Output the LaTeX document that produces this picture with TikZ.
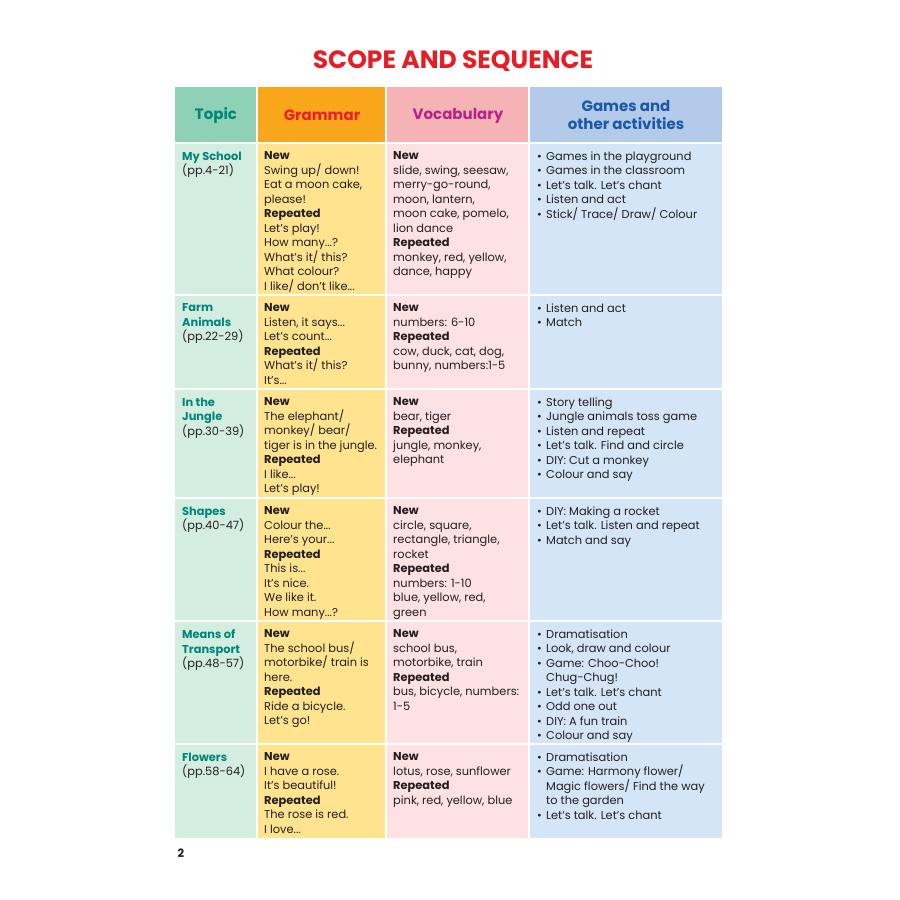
\documentclass[tikz,border=0pt]{standalone}
\usepackage{fontspec}
\setmainfont{Poppins}

\definecolor{titlered}{RGB}{227,30,36}
\definecolor{ink}{RGB}{35,31,32}
\definecolor{teal}{RGB}{0,133,120}
\definecolor{topichd}{RGB}{143,209,182}
\definecolor{gramhd}{RGB}{250,166,26}
\definecolor{vocabhd}{RGB}{246,179,182}
\definecolor{gameshd}{RGB}{179,202,233}
\definecolor{topicbg}{RGB}{212,237,225}
\definecolor{grambg}{RGB}{255,227,143}
\definecolor{vocabbg}{RGB}{253,225,227}
\definecolor{gamesbg}{RGB}{211,229,246}
\definecolor{gramtxt}{RGB}{232,33,43}
\definecolor{vocabtxt}{RGB}{181,36,138}
\definecolor{gamestxt}{RGB}{27,88,168}

\tikzset{
	cell/.style={anchor=north west,inner sep=0pt,align=left,text=ink,
		font=\fontsize{11.4}{14.5}\selectfont},
	topic/.style={cell,text=teal},
	head/.style={inner sep=0pt,align=center,font=\fontsize{15}{18}\selectfont\bfseries},
	gap/.style={white,line width=1.5pt}
}
\newcommand{\itm}{\makebox[9pt][l]{\textbullet}}
\newcommand{\nxt}{\hspace*{9pt}}

\begin{document}
\begin{tikzpicture}[x=1pt,y=-1pt]
	\useasboundingbox (0,0) rectangle (900,900);

	\node[text=titlered,font=\fontsize{25}{28}\selectfont\bfseries] (title) at (453,61) {SCOPE AND SEQUENCE};

	% header cells
	\fill[topichd](175,87) rectangle (257,143);
	\fill[gramhd](257,87) rectangle (386,143);
	\fill[vocabhd](386,87) rectangle (529,143);
	\fill[gameshd](529,87) rectangle (722,143);

	% body columns
	\fill[topicbg](175,143) rectangle (257,838);
	\fill[grambg](257,143) rectangle (386,838);
	\fill[vocabbg](386,143) rectangle (529,838);
	\fill[gamesbg](529,143) rectangle (722,838);

	% white rules
	\draw[gap](175,143)--(722,143);
	\draw[gap](175,295)--(722,295);
	\draw[gap](175,389)--(722,389);
	\draw[gap](175,498)--(722,498);
	\draw[gap](175,621)--(722,621);
	\draw[gap](175,744)--(722,744);
	\draw[gap](257,87)--(257,838);
	\draw[gap](386,87)--(386,838);
	\draw[gap](529,87)--(529,838);

	\node[head,text=teal] (topicHd) at (216,115.5) {Topic};
	\node[head,text=gramtxt] (gramHd) at (322,115.5) {Grammar};
	\node[head,text=vocabtxt] (vocabHd) at (458,115.5) {Vocabulary};
	\node[head,text=gamestxt] (gamesHd) at (626,115) {Games and\\other activities};

	% My School
	\node[topic] (schoolT) at (182,151.5) {\textbf{My School}\\\textcolor{ink}{(pp.4-21)}};
	\node[cell] (schoolG) at (264,151.5) {\textbf{New}\\Swing up/ down!\\Eat a moon cake,\\please!\\\textbf{Repeated}\\Let’s play!\\How many...?\\What’s it/ this?\\What colour?\\I like/ don’t like...};
	\node[cell] (schoolV) at (393,151.5) {\textbf{New}\\slide, swing, seesaw,\\merry-go-round,\\moon, lantern,\\moon cake, pomelo,\\lion dance\\\textbf{Repeated}\\monkey, red, yellow,\\dance, happy};
	\node[cell] (schoolA) at (537,151.5) {\itm Games in the playground\\\itm Games in the classroom\\\itm Let’s talk. Let’s chant\\\itm Listen and act\\\itm Stick/ Trace/ Draw/ Colour};

	% Farm Animals
	\node[topic] (farmT) at (182,303.5) {\textbf{Farm}\\\textbf{Animals}\\\textcolor{ink}{(pp.22-29)}};
	\node[cell] (farmG) at (264,303.5) {\textbf{New}\\Listen, it says...\\Let’s count...\\\textbf{Repeated}\\What’s it/ this?\\It’s...};
	\node[cell] (farmV) at (393,303.5) {\textbf{New}\\numbers: 6-10\\\textbf{Repeated}\\cow, duck, cat, dog,\\bunny, numbers:1-5};
	\node[cell] (farmA) at (537,303.5) {\itm Listen and act\\\itm Match};

	% In the Jungle
	\node[topic] (jungleT) at (182,397.5) {\textbf{In the}\\\textbf{Jungle}\\\textcolor{ink}{(pp.30-39)}};
	\node[cell] (jungleG) at (264,397.5) {\textbf{New}\\The elephant/\\monkey/ bear/\\tiger is in the jungle.\\\textbf{Repeated}\\I like...\\Let’s play!};
	\node[cell] (jungleV) at (393,397.5) {\textbf{New}\\bear, tiger\\\textbf{Repeated}\\jungle, monkey,\\elephant};
	\node[cell] (jungleA) at (537,397.5) {\itm Story telling\\\itm Jungle animals toss game\\\itm Listen and repeat\\\itm Let’s talk. Find and circle\\\itm DIY: Cut a monkey\\\itm Colour and say};

	% Shapes
	\node[topic] (shapesT) at (182,506.5) {\textbf{Shapes}\\\textcolor{ink}{(pp.40-47)}};
	\node[cell] (shapesG) at (264,506.5) {\textbf{New}\\Colour the...\\Here’s your...\\\textbf{Repeated}\\This is...\\It’s nice.\\We like it.\\How many...?};
	\node[cell] (shapesV) at (393,506.5) {\textbf{New}\\circle, square,\\rectangle, triangle,\\rocket\\\textbf{Repeated}\\numbers: 1-10\\blue, yellow, red,\\green};
	\node[cell] (shapesA) at (537,506.5) {\itm DIY: Making a rocket\\\itm Let’s talk. Listen and repeat\\\itm Match and say};

	% Means of Transport
	\node[topic] (transT) at (182,629.5) {\textbf{Means of}\\\textbf{Transport}\\\textcolor{ink}{(pp.48-57)}};
	\node[cell] (transG) at (264,629.5) {\textbf{New}\\The school bus/\\motorbike/ train is\\here.\\\textbf{Repeated}\\Ride a bicycle.\\Let’s go!};
	\node[cell] (transV) at (393,629.5) {\textbf{New}\\school bus,\\motorbike, train\\\textbf{Repeated}\\bus, bicycle, numbers:\\1-5};
	\node[cell] (transA) at (537,629.5) {\itm Dramatisation\\\itm Look, draw and colour\\\itm Game: Choo-Choo!\\\nxt Chug-Chug!\\\itm Let’s talk. Let’s chant\\\itm Odd one out\\\itm DIY: A fun train\\\itm Colour and say};

	% Flowers
	\node[topic] (flowT) at (182,752.5) {\textbf{Flowers}\\\textcolor{ink}{(pp.58-64)}};
	\node[cell] (flowG) at (264,752.5) {\textbf{New}\\I have a rose.\\It’s beautiful!\\\textbf{Repeated}\\The rose is red.\\I love...};
	\node[cell] (flowV) at (393,752.5) {\textbf{New}\\lotus, rose, sunflower\\\textbf{Repeated}\\pink, red, yellow, blue};
	\node[cell] (flowA) at (537,752.5) {\itm Dramatisation\\\itm Game: Harmony flower/\\\nxt Magic flowers/ Find the way\\\nxt to the garden\\\itm Let’s talk. Let’s chant};

	\node[text=ink,font=\fontsize{11.5}{13}\selectfont\bfseries] (pageNo) at (181,853) {2};
\end{tikzpicture}
\end{document}
